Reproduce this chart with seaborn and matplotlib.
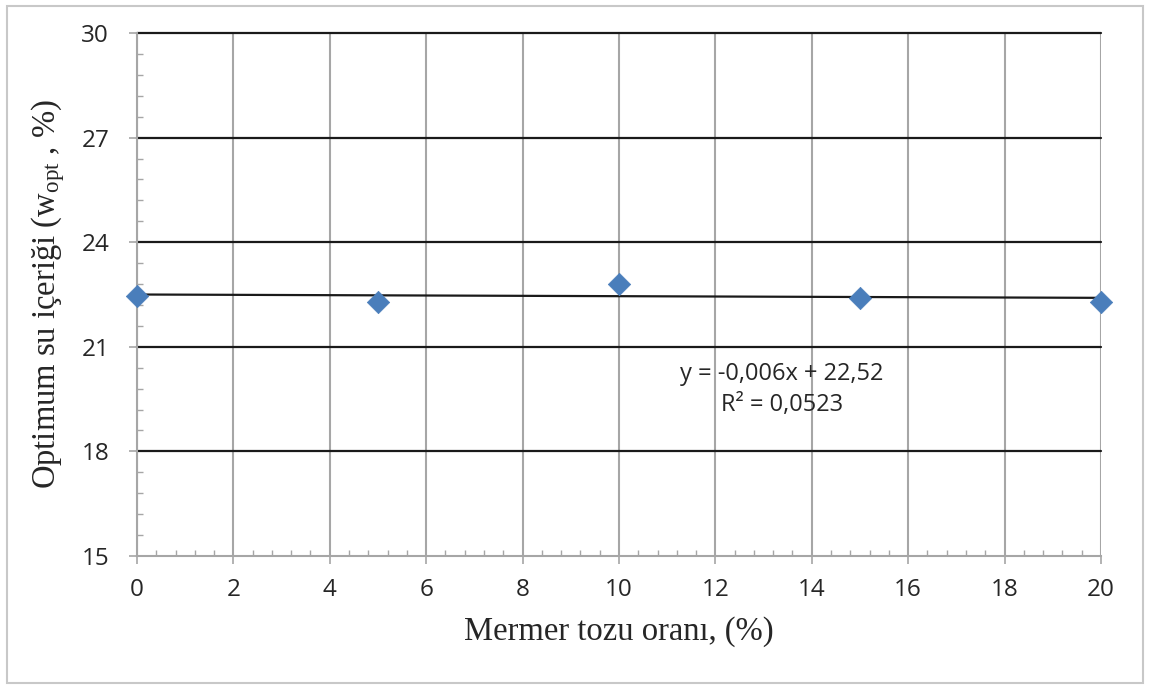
import numpy as np
import pandas as pd
import matplotlib
matplotlib.use("Agg")
import matplotlib.pyplot as plt
import seaborn as sns
from matplotlib.patches import Rectangle
from matplotlib.ticker import MultipleLocator

# Data
mermer_tozu = [0, 5, 10, 15, 20]
w_opt = [22.47, 22.29, 22.80, 22.41, 22.29]
x_ticks = [0, 2, 4, 6, 8, 10, 12, 14, 16, 18, 20]
y_ticks = [15, 18, 21, 24, 27, 30]
eq_text = "y = -0,006x + 22,52"
r2_text = "R² = 0,0523"
xlabel = "Mermer tozu oranı, (%)"
ylabel = r"Optimum su içeriği (w$_{\mathrm{opt}}$ , %)"

df = pd.DataFrame({"x": mermer_tozu, "y": w_opt})

sns.set_theme(style="white")
plt.rcParams["font.family"] = ["Open Sans", "DejaVu Sans"]
plt.rcParams["mathtext.fontset"] = "custom"
plt.rcParams["mathtext.rm"] = "Liberation Serif"
plt.rcParams["mathtext.it"] = "Liberation Serif:italic"

fig = plt.figure(figsize=(11.49, 6.86), dpi=100)
ax = fig.add_axes([0.1192, 0.1895, 0.9582 - 0.1192, 0.9519 - 0.1895])

# gridlines
for xv in x_ticks:
    ax.axvline(xv, color="#a6a6a6", lw=1.5, zorder=1)
for yv in y_ticks[1:]:
    ax.axhline(yv, color="#1a1a1a", lw=1.6, zorder=1, clip_on=False)

# trend line
sns.regplot(data=df, x="x", y="y", ci=None, scatter=False, ax=ax,
            line_kws=dict(color="#1a1a1a", lw=1.6, zorder=2))
# points
sns.scatterplot(data=df, x="x", y="y", marker="D", s=130, color="#4a7ebb",
                edgecolor="#4a7ebb", linewidth=0.5, ax=ax, zorder=3, clip_on=False)

ax.set_xlim(0, 20)
ax.set_ylim(15, 30)
ax.set_xticks(x_ticks)
ax.set_yticks(y_ticks)
ax.xaxis.set_minor_locator(MultipleLocator(0.4))
ax.yaxis.set_minor_locator(MultipleLocator(0.6))
ax.tick_params(axis="both", which="major", direction="out", length=6, width=1.2,
               color="#a6a6a6", labelsize=17.5, labelcolor="#262626", bottom=True, left=True)
ax.tick_params(axis="x", which="major", pad=10)
ax.tick_params(axis="y", which="major", pad=14)
ax.tick_params(axis="both", which="minor", direction="in", length=4, width=1,
               color="#a6a6a6", bottom=True, left=True)

for s in ["top", "right"]:
    ax.spines[s].set_visible(False)
for s in ["left", "bottom"]:
    ax.spines[s].set_color("#a6a6a6")
    ax.spines[s].set_linewidth(1.5)

ax.set_xlabel(xlabel, family="Liberation Serif", fontsize=23.5, color="#262626", labelpad=10)
ax.set_ylabel(ylabel, family="Liberation Serif", fontsize=23.5, color="#262626", labelpad=10)

ax.text(13.38, 20.22, eq_text, ha="center", va="center", fontsize=17, color="#262626")
ax.text(13.38, 19.33, r2_text, ha="center", va="center", fontsize=17, color="#262626")

fig.patches.append(Rectangle((7 / 1149, 1 - 683 / 686), (1143 - 7) / 1149, (683 - 6) / 686,
                             transform=fig.transFigure, fill=False, edgecolor="#c8c8c8",
                             lw=1.5))

fig.savefig("out.png", dpi=100)
